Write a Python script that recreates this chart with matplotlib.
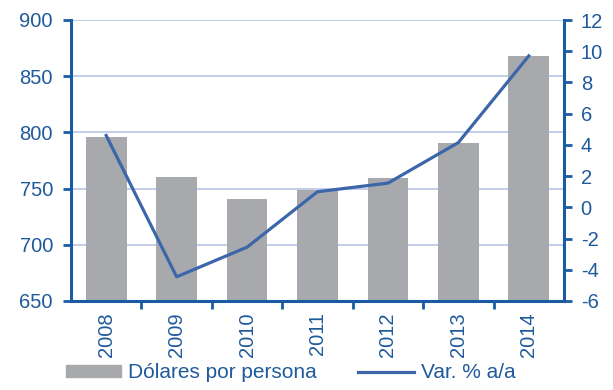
import matplotlib
matplotlib.use("Agg")
import matplotlib.pyplot as plt
from matplotlib.lines import Line2D
from matplotlib.patches import Patch

plt.rcParams['font.family'] = ['Liberation Sans', 'DejaVu Sans']
plt.rcParams['axes.unicode_minus'] = False

years = ['2008', '2009', '2010', '2011', '2012', '2013', '2014']
dolares = [796, 760, 741, 749, 759, 791, 868]
variacion = [4.6, -4.45, -2.55, 1.0, 1.55, 4.15, 9.7]

left_ticks = [650, 700, 750, 800, 850, 900]
right_ticks = [-6, -4, -2, 0, 2, 4, 6, 8, 10, 12]

axis_blue = '#1a5ca4'
text_blue = '#1f5a9c'
line_blue = '#3c66aa'
bar_grey = '#a8a9ac'
grid_blue = '#b7c5e6'
fs = 14.5

fig = plt.figure(figsize=(6.13, 3.90), dpi=100)
ax = fig.add_axes([71 / 613, 1 - 301 / 390, (564 - 71) / 613, (301 - 20) / 390])
ax2 = ax.twinx()

x = list(range(len(years)))
ax.bar(x, dolares, width=0.58, color=bar_grey, zorder=2)
ax.set_ylim(650, 900)
ax.set_xlim(-0.5, len(years) - 0.5)
ax.set_yticks(left_ticks)
for v in left_ticks[1:]:
    ax.axhline(v, color=grid_blue, lw=1.2, zorder=1)

ax2.plot(x, variacion, color=line_blue, lw=2.3, zorder=3)
ax2.set_ylim(-6, 12)
ax2.set_yticks(right_ticks)

ax.set_xticks([i + 0.5 for i in x[:-1]], minor=False)
ax.set_xticklabels([])
ax.set_xticks(x, minor=True)
ax.set_xticklabels(years, minor=True, rotation=90)
ax.tick_params(axis='x', which='minor', length=0, pad=8, labelsize=fs, labelcolor=text_blue)
ax.tick_params(axis='x', which='major', direction='out', length=6, width=2, color=axis_blue)
ax.tick_params(axis='y', direction='out', length=6, width=2, color=axis_blue,
               labelsize=fs, labelcolor=text_blue, pad=7)
ax2.tick_params(axis='y', direction='out', length=6, width=2, color=axis_blue,
                labelsize=fs, labelcolor=text_blue, pad=6)

for a in (ax, ax2):
    a.spines['top'].set_visible(False)
    for side in ('left', 'right', 'bottom'):
        a.spines[side].set_color(axis_blue)
        a.spines[side].set_linewidth(2.2)
ax.spines['right'].set_visible(False)
ax2.spines['left'].set_visible(False)
ax2.spines['bottom'].set_visible(False)
ax.set_zorder(ax2.get_zorder() - 1)
ax2.patch.set_visible(False)

handles = [Patch(color=bar_grey), Line2D([0], [0], color=line_blue, lw=2.3)]
leg = fig.legend(handles, ['Dólares por persona', 'Var. % a/a'], loc='center',
                 bbox_to_anchor=(0.474, 1 - 373 / 390), ncol=2, frameon=False,
                 fontsize=15, handlelength=2.65, handleheight=0.5, columnspacing=2.0,
                 handletextpad=0.35, borderpad=0, borderaxespad=0)
for t in leg.get_texts():
    t.set_color(text_blue)

fig.savefig('out.png', dpi=100)
